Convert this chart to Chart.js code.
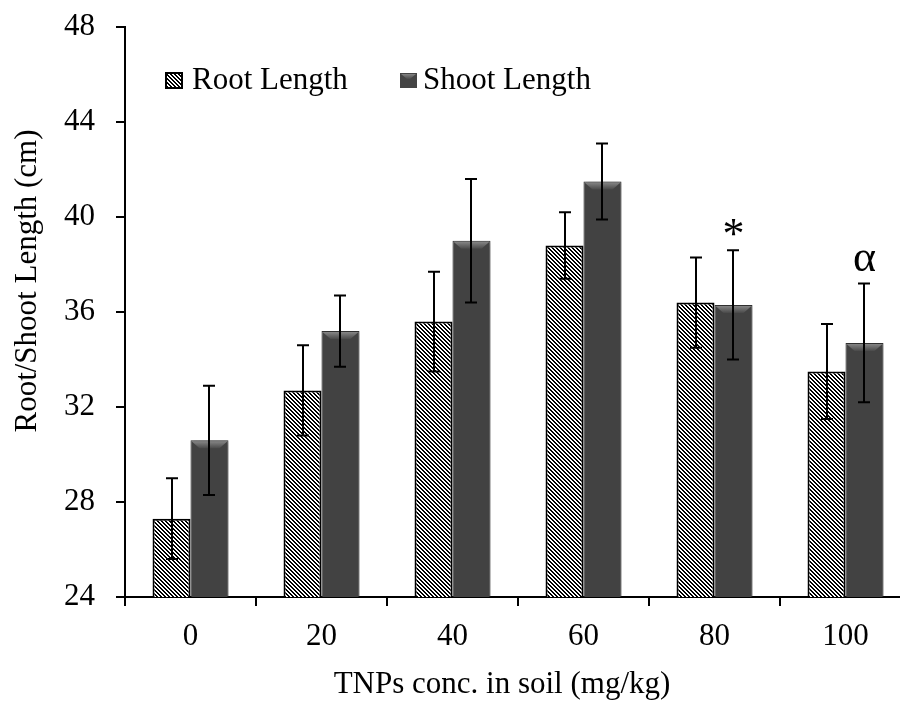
<!DOCTYPE html>
<html lang="en">
<head>
    <meta charset="UTF-8">
    <title>Root and Shoot Length vs TNPs concentration</title>
    <style>
        html, body { margin: 0; padding: 0; background: #fff; overflow: hidden; }
        #lengthChart { display: block; }
    </style>
</head>
<body>
    <canvas id="lengthChart" width="915" height="709"></canvas>

    <script src="https://cdn.jsdelivr.net/npm/chart.js"></script>
    <script>
        // TNPs concentration in soil (mg/kg)
        const concLabels = ['0', '20', '40', '60', '80', '100'];

        // mean lengths (cm) and their error bars
        const rootLength  = [27.3, 32.7, 35.6, 38.8, 36.4, 33.5];
        const rootError   = [1.7, 1.9, 2.1, 1.4, 1.9, 2.0];
        const shootLength = [30.6, 35.2, 39.0, 41.5, 36.3, 34.7];
        const shootError  = [2.3, 1.5, 2.6, 1.6, 2.3, 2.5];

        // significance marks above the shoot bars
        const shootMarks = ['', '', '', '', '*', 'α'];

        const serif = 'Liberation Serif, Times New Roman, serif';

        const ctx = document.getElementById('lengthChart').getContext('2d');

        // diagonal hatch for the root bars
        function makeHatch() {
            const tile = document.createElement('canvas');
            tile.width = 4; tile.height = 4;
            const t = tile.getContext('2d');
            t.fillStyle = '#fff';
            t.fillRect(0, 0, 4, 4);
            t.fillStyle = '#000';
            for (let y = 0; y < 4; y++) {
                for (let x = 0; x < 4; x++) {
                    if (((x - y) % 4 + 4) % 4 < 2) t.fillRect(x, y, 1, 1);
                }
            }
            return ctx.createPattern(tile, 'repeat');
        }
        const hatch = makeHatch();

        // lighter chamfer on top of a dark bar
        function bevelTop(c, left, top, w, d) {
            const g = c.createLinearGradient(0, top, 0, top + d);
            g.addColorStop(0, '#8e8e8e');
            g.addColorStop(1, '#4a4a4a');
            c.fillStyle = g;
            c.beginPath();
            c.moveTo(left + 1, top + 1);
            c.lineTo(left + w - 1, top + 1);
            c.lineTo(left + w - 1 - d, top + d);
            c.lineTo(left + 1 + d, top + d);
            c.closePath();
            c.fill();
        }

        function drawErrors(chart, dsIndex, values, errors) {
            const c = chart.ctx;
            const yScale = chart.scales.y;
            c.save();
            c.strokeStyle = '#000';
            c.lineWidth = 2;
            chart.getDatasetMeta(dsIndex).data.forEach((bar, i) => {
                const x = Math.round(bar.x);
                const top = yScale.getPixelForValue(values[i] + errors[i]);
                const bot = yScale.getPixelForValue(values[i] - errors[i]);
                c.beginPath();
                c.moveTo(x, top); c.lineTo(x, bot);
                c.moveTo(x - 6, top); c.lineTo(x + 6, top);
                c.moveTo(x - 6, bot); c.lineTo(x + 6, bot);
                c.stroke();
            });
            c.restore();
        }

        const barDecor = {
            id: 'barDecor',
            beforeDatasetDraw(chart, args) {
                if (args.index !== 1) return;
                const c = chart.ctx;
                c.save();
                c.shadowColor = 'rgba(0,0,0,0.35)';
                c.shadowBlur = 5;
                c.shadowOffsetX = 1;
                c.shadowOffsetY = 1;
            },
            afterDatasetDraw(chart, args) {
                if (args.index !== 1) return;
                const c = chart.ctx;
                c.restore();
                args.meta.data.forEach(bar => {
                    const { x, y, width } = bar.getProps(['x', 'y', 'width'], true);
                    bevelTop(c, x - width / 2, y, width, 8);
                });
            },
            afterDatasetsDraw(chart) {
                drawErrors(chart, 0, rootLength, rootError);
                drawErrors(chart, 1, shootLength, shootError);

                // marks sit ~23px above the upper error cap
                const c = chart.ctx;
                const yScale = chart.scales.y;
                c.save();
                c.fillStyle = '#000';
                c.textAlign = 'center';
                c.textBaseline = 'alphabetic';
                c.font = '44px ' + serif;
                chart.getDatasetMeta(1).data.forEach((bar, i) => {
                    if (!shootMarks[i]) return;
                    const top = yScale.getPixelForValue(shootLength[i] + shootError[i]);
                    const m = c.measureText(shootMarks[i]);
                    const inkMid = (m.actualBoundingBoxAscent - m.actualBoundingBoxDescent) / 2;
                    c.fillText(shootMarks[i], bar.x, top - 23 + inkMid);
                });
                c.restore();
            },
            afterDraw(chart) {
                const c = chart.ctx;
                const area = chart.chartArea;
                c.save();
                c.fillStyle = '#000';
                c.font = '31px ' + serif;
                c.textBaseline = 'alphabetic';

                // legend
                c.textAlign = 'left';
                c.fillStyle = hatch;
                c.fillRect(166, 73, 16, 15);
                c.strokeStyle = '#000';
                c.lineWidth = 2;
                c.strokeRect(166, 73, 16, 15);
                c.fillStyle = '#000';
                c.fillText(chart.data.datasets[0].label, 192, 89);

                c.fillStyle = '#444';
                c.fillRect(400, 73, 17, 15);
                bevelTop(c, 400, 73, 17, 6);
                c.fillStyle = '#000';
                c.fillText(chart.data.datasets[1].label, 423, 89);

                // axis titles
                c.textAlign = 'center';
                c.fillText('TNPs conc. in soil (mg/kg)', area.left + 377, 693);

                c.translate(36, area.top + 254);
                c.rotate(-Math.PI / 2);
                c.fillText('Root/Shoot Length (cm)', 0, 0);
                c.restore();
            }
        };

        const axisFont = { family: serif, size: 31 };

        new Chart(ctx, {
            type: 'bar',
            data: {
                labels: concLabels,
                datasets: [
                    {
                        label: 'Root Length',
                        data: rootLength,
                        backgroundColor: hatch,
                        borderColor: '#000',
                        borderWidth: 2,
                        borderSkipped: false
                    },
                    {
                        label: 'Shoot Length',
                        data: shootLength,
                        backgroundColor: '#424242',
                        borderColor: '#333',
                        borderWidth: 1
                    }
                ]
            },
            options: {
                responsive: false,
                animation: false,
                events: [],
                layout: { padding: { top: 27, right: 4, left: 0, bottom: 0 } },
                datasets: { bar: { categoryPercentage: 0.58, barPercentage: 1 } },
                plugins: {
                    legend: { display: false },
                    tooltip: { enabled: false }
                },
                scales: {
                    x: {
                        grid: { drawOnChartArea: false, tickLength: 9, color: '#000', lineWidth: 2 },
                        border: { color: '#000', width: 2 },
                        ticks: { font: axisFont, color: '#000', padding: 12 },
                        afterFit: s => { s.height = 112; }
                    },
                    y: {
                        min: 24,
                        max: 48,
                        grid: { drawOnChartArea: false, tickLength: 9, color: '#000', lineWidth: 2 },
                        border: { color: '#000', width: 2 },
                        ticks: { stepSize: 4, font: axisFont, color: '#000', padding: 21 },
                        afterFit: s => {
                            s.width = 125;
                            s.paddingTop = 0;
                            s.paddingBottom = 0;
                        }
                    }
                }
            },
            plugins: [barDecor]
        });
    </script>
</body>
</html>
